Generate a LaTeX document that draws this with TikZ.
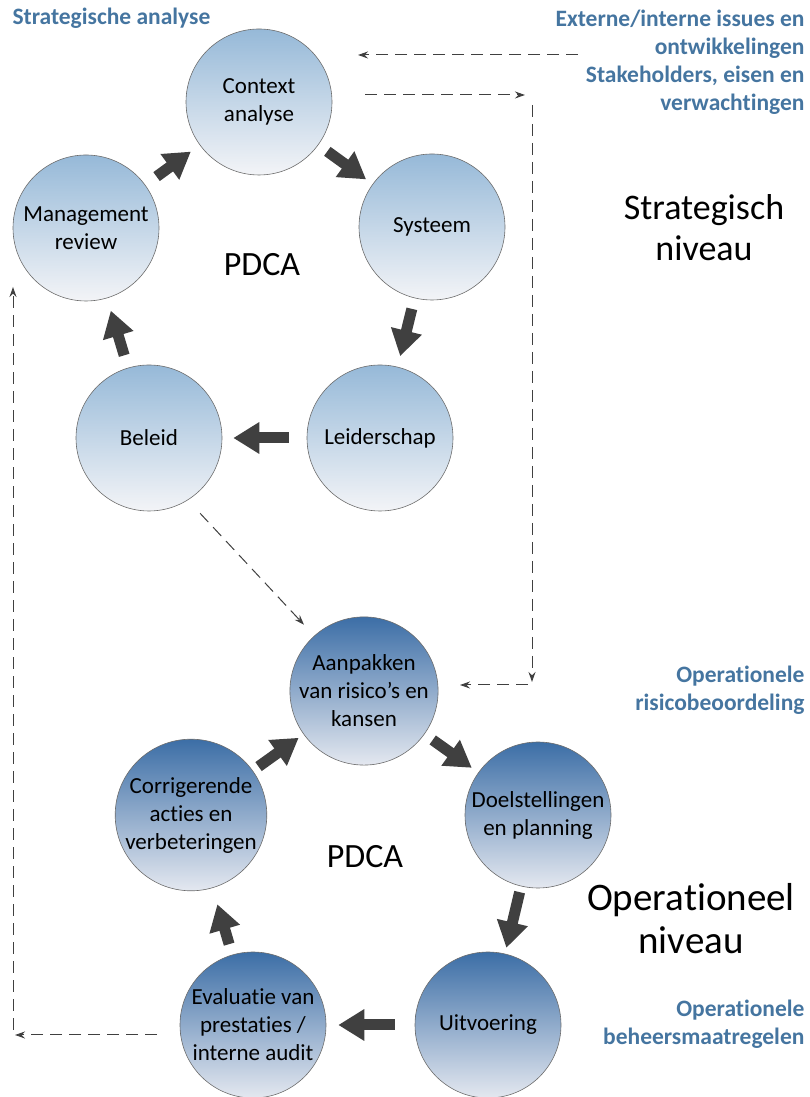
\documentclass[tikz,border=0pt]{standalone}
\usepackage{fontspec}
\setmainfont{Carlito}[Ligatures=NoCommon]
\usepackage{tikz}
\usetikzlibrary{arrows.meta}
\definecolor{labelblauw}{RGB}{69,117,160}
\definecolor{pijlgrijs}{RGB}{64,64,64}
\definecolor{stratboven}{RGB}{150,185,216}
\definecolor{stratonder}{RGB}{243,244,247}
\definecolor{opboven}{RGB}{60,110,166}
\definecolor{oponder}{RGB}{228,232,240}
\tikzset{
  fase/.style={circle, draw=gray!85!black, line width=0.6pt, minimum size=146pt, inner sep=0pt,
    align=center, font=\fontsize{23}{28}\selectfont},
  strat/.style={fase, top color=stratboven, bottom color=stratonder},
  oper/.style={fase, top color=opboven, bottom color=oponder},
  blokpijl/.style={draw=pijlgrijs, line width=11pt, -{Triangle[length=26pt, width=30pt]}},
  stippel/.style={draw=gray!50!black, line width=1pt, dash pattern=on 12pt off 7pt,
    -{Stealth[length=10pt, width=7pt]}},
  blauwtekst/.style={text=labelblauw, font=\bfseries\fontsize{23.5}{28}\selectfont},
  pdca/.style={font=\fontsize{34}{40}\selectfont}
}

\begin{document}
\begin{tikzpicture}[x=1pt, y=1pt]
  \useasboundingbox (0,0) rectangle (810,1097);

  % strategisch niveau
  \node[strat] (context) at (259,995) {Context\\analyse};
  \node[strat] (systeem) at (432,870) {Systeem};
  \node[strat] (leiderschap) at (380,659) {Leiderschap};
  \node[strat] (beleid) at (149,659) {Beleid};
  \node[strat] (review) at (86,869) {Management\\review};

  % operationeel niveau
  \node[oper] (risico) at (364,406) {Aanpakken\\van risico’s en\\kansen};
  \node[oper] (doelen) at (538,282) {Doelstellingen\\en planning};
  \node[oper] (uitvoering) at (488,72) {Uitvoering};
  \node[oper] (evaluatie) at (253,72) {Evaluatie van\\prestaties /\\interne audit};
  \node[oper] (corrigeren) at (191,282) {Corrigerende\\acties en\\verbeteringen};

  \node[pdca] (pdcaboven) at (262,832) {PDCA};
  \node[pdca] (pdcaonder) at (365,240) {PDCA};

  \node[font=\fontsize{36}{41}\selectfont, align=center] (strategisch) at (704,869) {Strategisch\\niveau};
  \node[font=\fontsize{39}{43}\selectfont, align=center] (operationeel) at (691,178) {Operationeel\\niveau};

  \node[blauwtekst, anchor=west] (analyse) at (9,1079) {Strategische analyse};
  \node[blauwtekst, anchor=east, align=right] (issues) at (808,1035)
    {Externe/interne issues en\\ontwikkelingen\\Stakeholders, eisen en\\verwachtingen};
  \node[blauwtekst, anchor=east, align=right] (risicolabel) at (808,407)
    {Operationele\\risicobeoordeling};
  \node[blauwtekst, anchor=east, align=right] (beheerslabel) at (808,73)
    {Operationele\\beheersmaatregelen};

  % PDCA-cirkels
  \draw[blokpijl, shorten <=14pt, shorten >=11pt] (review) -- (context);
  \draw[blokpijl, shorten <=11pt, shorten >=8pt] (context) -- (systeem);
  \draw[blokpijl, shorten <=11pt, shorten >=11pt] (systeem) -- (leiderschap);
  \draw[blokpijl, shorten <=18pt, shorten >=11pt] (leiderschap) -- (beleid);
  \draw[blokpijl, shorten <=13pt, shorten >=13pt] (beleid) -- (review);

  \draw[blokpijl, shorten <=7pt, shorten >=6pt] (corrigeren) -- (risico);
  \draw[blokpijl, shorten <=10pt, shorten >=8pt] (risico) -- (doelen);
  \draw[blokpijl, shorten <=6pt, shorten >=6pt] (doelen) -- (uitvoering);
  \draw[blokpijl, shorten <=20pt, shorten >=12pt] (uitvoering) -- (evaluatie);
  \draw[blokpijl, shorten <=11pt, shorten >=17pt] (evaluatie) -- (corrigeren);

  % gestippelde verbindingen
  \coordinate (issuesin) at (578,1042);
  \coordinate (issuestip) at (358,1042);
  \coordinate (stakeuit) at (365,1002);
  \coordinate (staketip) at (525,1002);
  \coordinate (rechtsboven) at (532,992);
  \coordinate (rechtsonder) at (532,415);
  \coordinate (risicouit) at (528,412);
  \coordinate (risicotip) at (460,412);
  \coordinate (evaluit) at (157,62);
  \coordinate (linkshoek) at (15,62);
  \coordinate (linksonder) at (13,67);
  \coordinate (linksboven) at (13,810);

  \draw[stippel] (issuesin) -- (issuestip);
  \draw[stippel] (stakeuit) -- (staketip);
  \draw[stippel] (rechtsboven) -- (rechtsonder);
  \draw[stippel] (risicouit) -- (risicotip);
  \draw[stippel, shorten <=18pt, shorten >=15pt] (beleid.-58) -- (risico.132);
  \draw[stippel] (evaluit) -- (linkshoek);
  \draw[stippel] (linksonder) -- (linksboven);
\end{tikzpicture}
\end{document}
